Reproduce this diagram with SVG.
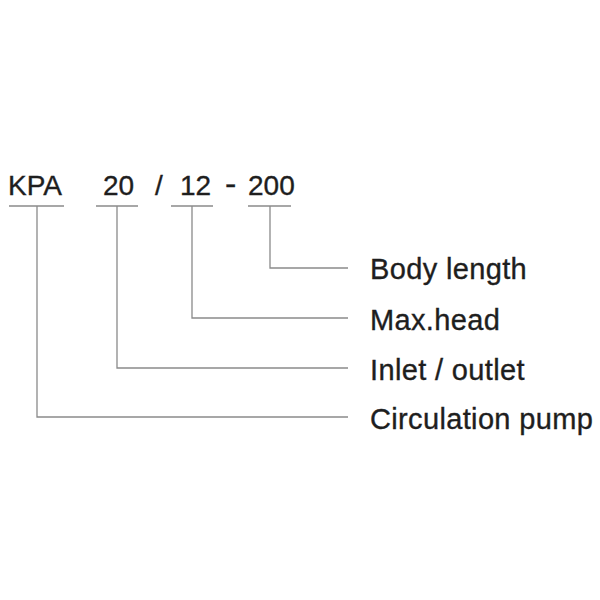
<svg xmlns="http://www.w3.org/2000/svg" width="600" height="600" viewBox="0 0 600 600">
<style>
.t{font-family:"Liberation Sans",Arial,sans-serif;font-size:28px;fill:#1e1e1e;stroke:#1e1e1e;stroke-width:0.35}
.lb{font-size:29px;letter-spacing:0.35px}
.l{fill:none;stroke:#8a8a8a;stroke-width:1.3}
</style>
<rect width="600" height="600" fill="#fff"/>
<g id="code">
<text class="t" x="8" y="195">KPA</text>
<text class="t" x="103" y="195">20</text>
<text class="t" x="155" y="195">/</text>
<text class="t" x="180" y="195">12</text>
<text class="t" x="225" y="195" style="font-size:34px">-</text>
<text class="t" x="248" y="195">200</text>
</g>
<g id="connectors">
<line class="l" x1="9" y1="206" x2="64" y2="206"/>
<line class="l" x1="96" y1="206" x2="138" y2="206"/>
<line class="l" x1="171" y1="206" x2="213" y2="206"/>
<line class="l" x1="248" y1="206" x2="291" y2="206"/>
<polyline class="l" points="270,206 270,268 348,268"/>
<polyline class="l" points="192,206 192,318 348,318"/>
<polyline class="l" points="117,206 117,368 348,368"/>
<polyline class="l" points="37,206 37,417 348,417"/>
</g>
<g id="label-body"><text class="t lb" x="370" y="278.5">Body length</text></g>
<g id="label-head"><text class="t lb" x="370" y="329.5">Max.head</text></g>
<g id="label-inlet"><text class="t lb" x="370" y="380">Inlet / outlet</text></g>
<g id="label-pump"><text class="t lb" x="370" y="429">Circulation pump</text></g>
</svg>
